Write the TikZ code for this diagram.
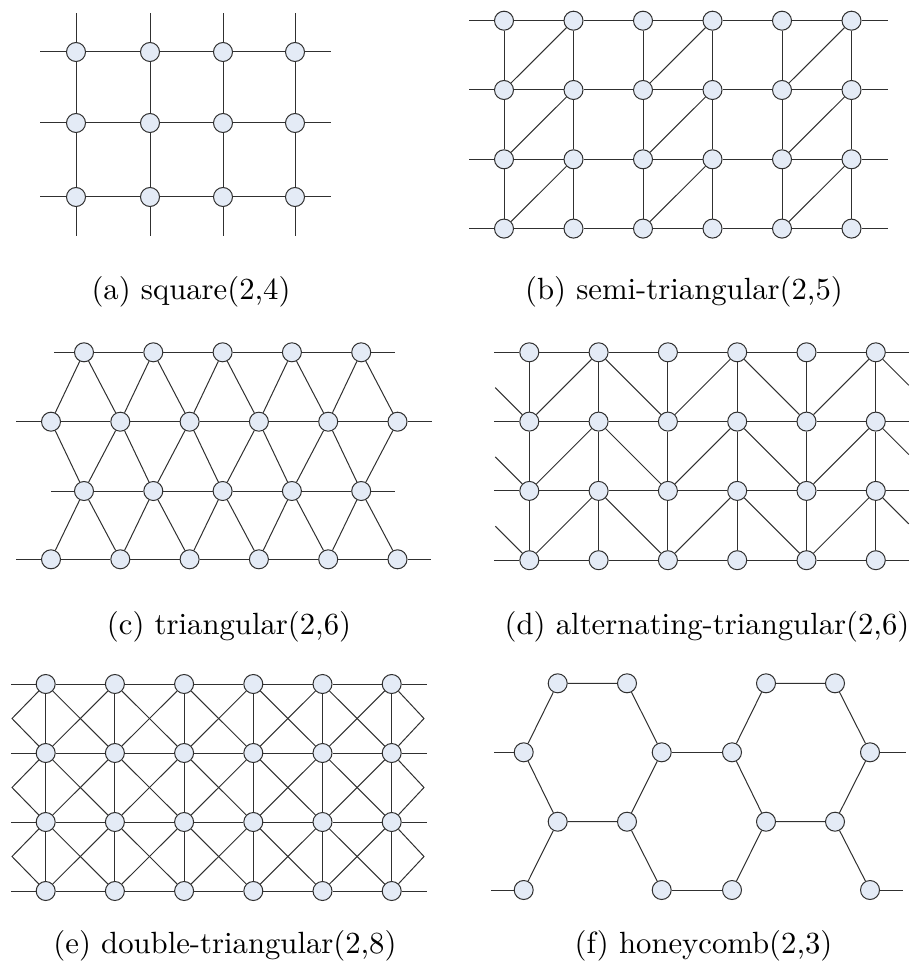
\documentclass[tikz,border=0pt]{standalone}
\usepackage{tikz}
\definecolor{nodefill}{HTML}{E4EBF6}
\definecolor{nodeline}{HTML}{303030}
\definecolor{edgecol}{HTML}{303030}
\font\capfont="[lmroman10-regular]:mapping=tex-text" at 30.7pt
\tikzset{
  vtx/.style={circle, draw=nodeline, fill=nodefill, line width=1pt, minimum size=19pt, inner sep=0pt},
  lnk/.style={draw=edgecol, line width=1pt},
  capt/.style={font=\capfont, inner sep=0pt, anchor=center},
}
\begin{document}
\begin{tikzpicture}[x=1pt,y=-1pt]
\useasboundingbox (0,0) rectangle (912,976);

% ---------- (a) square ----------
\foreach \c/\x in {1/76,2/150,3/223,4/295}{
  \foreach \r/\y in {1/52,2/123,3/197}{
    \node[vtx] (a-\c-\r) at (\x,\y) {};
  }
}
\foreach \c in {1,...,4}{
  \draw[lnk] (a-\c-1) -- ++(0,-39);
  \draw[lnk] (a-\c-1) -- (a-\c-2) -- (a-\c-3) -- ++(0,39);
}
\foreach \r in {1,2,3}{
  \draw[lnk] (a-1-\r) -- ++(-36,0);
  \draw[lnk] (a-1-\r) -- (a-2-\r) -- (a-3-\r) -- (a-4-\r) -- ++(36,0);
}

% ---------- (b) semi-triangular ----------
\foreach \c in {1,...,6}{
  \foreach \r in {1,...,4}{
    \node[vtx] (b-\c-\r) at ({504+69.5*(\c-1)},{20.7+69.3*(\r-1)}) {};
  }
}
\foreach \r in {1,...,4}{
  \draw[lnk] (b-1-\r) -- ++(-35,0);
  \draw[lnk] (b-1-\r) -- (b-2-\r) -- (b-3-\r) -- (b-4-\r) -- (b-5-\r) -- (b-6-\r) -- ++(36,0);
}
\foreach \c in {1,...,6}{
  \draw[lnk] (b-\c-1) -- (b-\c-2) -- (b-\c-3) -- (b-\c-4);
}
\foreach \p in {1,3,5}{
  \pgfmathtruncatemacro\q{\p+1}
  \foreach \r in {1,2,3}{
    \pgfmathtruncatemacro\s{\r+1}
    \draw[lnk] (b-\p-\s) -- (b-\q-\r);
  }
}

% ---------- (c) triangular ----------
\foreach \r/\y in {1/352.3,3/491}{
  \foreach \k in {1,...,5}{
    \node[vtx] (c-\r-\k) at ({84+69.3*(\k-1)},\y) {};
  }
}
\foreach \r/\y in {2/421.7,4/559.3}{
  \foreach \k in {1,...,6}{
    \node[vtx] (c-\r-\k) at ({51+69.3*(\k-1)},\y) {};
  }
}
\foreach \k in {1,...,5}{
  \pgfmathtruncatemacro\kk{\k+1}
  \draw[lnk] (c-2-\k) -- (c-1-\k) -- (c-2-\kk);
  \draw[lnk] (c-2-\k) -- (c-3-\k) -- (c-2-\kk);
  \draw[lnk] (c-4-\k) -- (c-3-\k) -- (c-4-\kk);
}
\draw[lnk] (c-1-1) -- ++(-30,0);
\draw[lnk] (c-1-1) -- (c-1-2) -- (c-1-3) -- (c-1-4) -- (c-1-5) -- ++(34,0);
\draw[lnk] (c-3-1) -- ++(-33,0);
\draw[lnk] (c-3-1) -- (c-3-2) -- (c-3-3) -- (c-3-4) -- (c-3-5) -- ++(34,0);
\draw[lnk] (c-2-1) -- ++(-35,0);
\draw[lnk] (c-2-1) -- (c-2-2) -- (c-2-3) -- (c-2-4) -- (c-2-5) -- (c-2-6) -- ++(34,0);
\draw[lnk] (c-4-1) -- ++(-35,0);
\draw[lnk] (c-4-1) -- (c-4-2) -- (c-4-3) -- (c-4-4) -- (c-4-5) -- (c-4-6) -- ++(33,0);

% ---------- (d) alternating-triangular ----------
\foreach \c in {1,...,6}{
  \foreach \r in {1,...,4}{
    \node[vtx] (d-\c-\r) at ({529.3+69.3*(\c-1)},{352.3+69.3*(\r-1)}) {};
  }
}
\foreach \r in {1,...,4}{
  \draw[lnk] (d-1-\r) -- ++(-35,0);
  \draw[lnk] (d-1-\r) -- (d-2-\r) -- (d-3-\r) -- (d-4-\r) -- (d-5-\r) -- (d-6-\r) -- ++(33,0);
}
\foreach \c in {1,...,6}{
  \draw[lnk] (d-\c-1) -- (d-\c-2) -- (d-\c-3) -- (d-\c-4);
}
\foreach \r in {1,2,3}{
  \pgfmathtruncatemacro\s{\r+1}
  \draw[lnk] (d-1-\s) -- (d-2-\r) -- (d-3-\s) -- (d-4-\r) -- (d-5-\s) -- (d-6-\r) -- ++(33,33);
  \draw[lnk] (d-1-\s) -- ++(-34,-34);
}

% ---------- (e) double-triangular ----------
\foreach \c in {1,...,6}{
  \foreach \r in {1,...,4}{
    \node[vtx] (e-\c-\r) at ({45.7+69.2*(\c-1)},{684+69*(\r-1)}) {};
  }
}
\foreach \r in {1,...,4}{
  \draw[lnk] (e-1-\r) -- ++(-34.7,0);
  \draw[lnk] (e-1-\r) -- (e-2-\r) -- (e-3-\r) -- (e-4-\r) -- (e-5-\r) -- (e-6-\r) -- ++(35,0);
}
\foreach \c in {1,...,6}{
  \draw[lnk] (e-\c-1) -- (e-\c-2) -- (e-\c-3) -- (e-\c-4);
}
\foreach \r in {1,2,3}{
  \pgfmathtruncatemacro\s{\r+1}
  \coordinate (eL-\r) at (12,{684+69*(\r-1)+34.5});
  \coordinate (eR-\r) at (424,{684+69*(\r-1)+34.5});
  \draw[lnk] (e-1-\r) -- (eL-\r) -- (e-1-\s);
  \draw[lnk] (e-6-\r) -- (eR-\r) -- (e-6-\s);
  \foreach \c in {1,...,5}{
    \pgfmathtruncatemacro\cc{\c+1}
    \draw[lnk] (e-\c-\r) -- (e-\cc-\s);
    \draw[lnk] (e-\cc-\r) -- (e-\c-\s);
  }
}

% ---------- (f) honeycomb ----------
\node[vtx] (f-1-1) at (557.7,683.3) {};
\node[vtx] (f-1-2) at (627,683.3) {};
\node[vtx] (f-1-3) at (766,683.3) {};
\node[vtx] (f-1-4) at (835,683.3) {};
\node[vtx] (f-2-1) at (523.7,752.3) {};
\node[vtx] (f-2-2) at (661.7,752.3) {};
\node[vtx] (f-2-3) at (732,752.3) {};
\node[vtx] (f-2-4) at (870,752.3) {};
\node[vtx] (f-3-1) at (557.7,821.7) {};
\node[vtx] (f-3-2) at (627,821.7) {};
\node[vtx] (f-3-3) at (766,821.7) {};
\node[vtx] (f-3-4) at (835,821.7) {};
\node[vtx] (f-4-1) at (523.7,890) {};
\node[vtx] (f-4-2) at (661.7,890) {};
\node[vtx] (f-4-3) at (732,890) {};
\node[vtx] (f-4-4) at (870,890) {};
\draw[lnk] (f-1-1) -- (f-1-2) -- (f-2-2) -- (f-3-2) -- (f-3-1) -- (f-2-1) -- (f-1-1);
\draw[lnk] (f-1-3) -- (f-1-4) -- (f-2-4) -- (f-3-4) -- (f-3-3) -- (f-2-3) -- (f-1-3);
\draw[lnk] (f-2-2) -- (f-2-3);
\draw[lnk] (f-3-1) -- (f-4-1);
\draw[lnk] (f-3-2) -- (f-4-2);
\draw[lnk] (f-3-3) -- (f-4-3);
\draw[lnk] (f-3-4) -- (f-4-4);
\draw[lnk] (f-4-2) -- (f-4-3);
\draw[lnk] (f-2-1) -- ++(-30,0);
\draw[lnk] (f-2-4) -- ++(36,0);
\draw[lnk] (f-4-1) -- ++(-33,0);
\draw[lnk] (f-4-4) -- ++(33,0);

% ---------- captions ----------
\node[capt] (cap-a) at (191,292) {(a) square(2,4)};
\node[capt] (cap-b) at (684,292) {(b) semi-triangular(2,5)};
\node[capt] (cap-c) at (229,627) {(c) triangular(2,6)};
\node[capt] (cap-d) at (707,627) {(d) alternating-triangular(2,6)};
\node[capt] (cap-e) at (225,946) {(e) double-triangular(2,8)};
\node[capt] (cap-f) at (703.5,946) {(f) honeycomb(2,3)};
\end{tikzpicture}
\end{document}
